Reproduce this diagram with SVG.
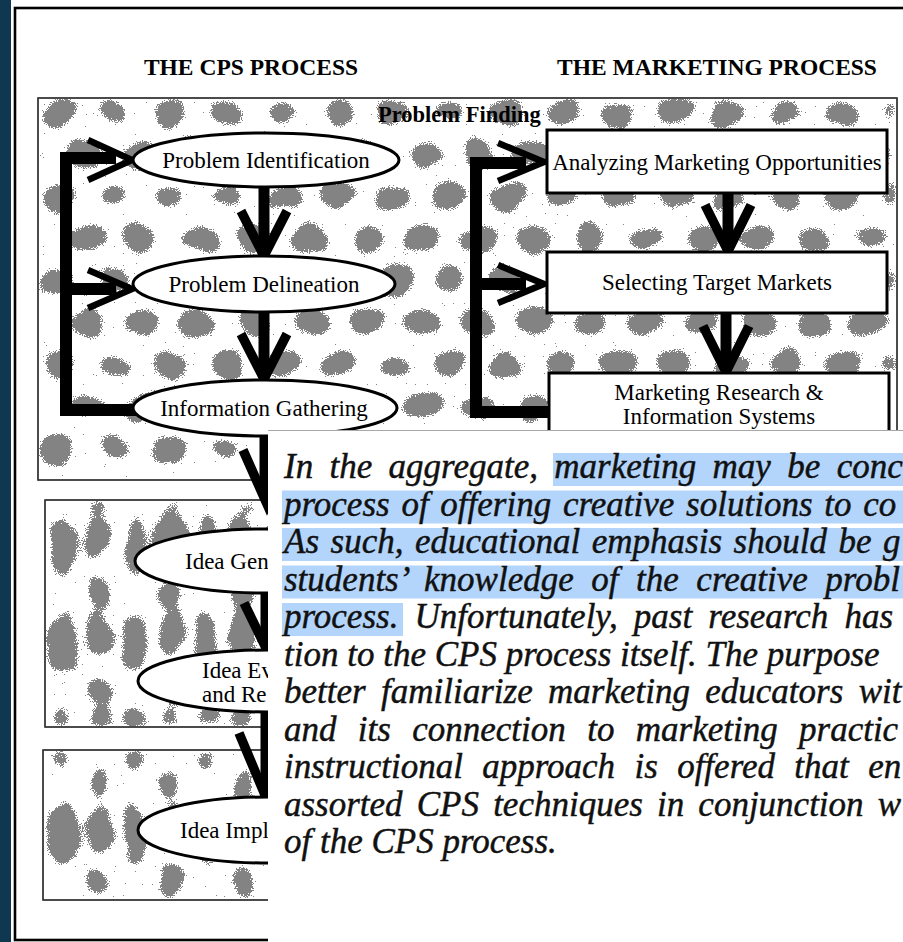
<svg xmlns="http://www.w3.org/2000/svg" width="903" height="942" viewBox="0 0 903 942">
  <style>
    .hd { font: bold 23.5px "Liberation Serif", "Times New Roman", serif; fill: #000; }
    .pf { font: bold 22.5px "Liberation Serif", "Times New Roman", serif; fill: #000; }
    .lb { font: 23px "Liberation Serif", "Times New Roman", serif; fill: #000; }
    .node { fill: #fff; stroke: #000; stroke-width: 3; }
    .panel { fill: #fff; stroke: #333; stroke-width: 1.3; }
    .bar { fill: none; stroke: #000; stroke-width: 12; stroke-linejoin: miter; }
    .stem { fill: none; stroke: #000; stroke-width: 11; }
    .head { fill: none; stroke: #000; stroke-width: 6.5; stroke-linejoin: miter; stroke-miterlimit: 10; }
    .vee { fill: none; stroke: #000; stroke-width: 9.5; stroke-linejoin: miter; stroke-miterlimit: 10; }
    .body { font: italic 35px "Liberation Serif", "Times New Roman", serif; fill: #111; stroke: #111; stroke-width: 0.45; }
    .sel { fill: #b3d5fb; }
  </style>
  <defs>
    <!-- cloudy halftone blobs, top panel -->
    <pattern id="blobsA" patternUnits="userSpaceOnUse" x="30" y="92" width="112" height="84">
      <ellipse cx="28" cy="21" rx="18" ry="13"/>
      <ellipse cx="84" cy="19" rx="16" ry="12"/>
      <ellipse cx="0" cy="63" rx="17" ry="14"/>
      <ellipse cx="56" cy="62" rx="19" ry="13"/>
      <ellipse cx="112" cy="63" rx="17" ry="14"/>
    </pattern>
    <!-- tall column blobs, lower panels -->
    <pattern id="blobsB" patternUnits="userSpaceOnUse" x="45" y="500" width="72" height="96">
      <ellipse cx="18" cy="46" rx="13" ry="31"/>
      <ellipse cx="54" cy="38" rx="13" ry="24"/>
      <ellipse cx="54" cy="93" rx="11" ry="14"/>
      <ellipse cx="54" cy="-3" rx="11" ry="14"/>
    </pattern>
    <!-- dither: wobbled soft blobs thresholded against noise, plus scattered specks -->
    <filter id="grain" x="0" y="0" width="1" height="1" color-interpolation-filters="sRGB">
      <feTurbulence type="fractalNoise" baseFrequency="0.035" numOctaves="2" seed="4" result="warp"/>
      <feDisplacementMap in="SourceAlpha" in2="warp" scale="22" xChannelSelector="R" yChannelSelector="G" result="moved"/>
      <feGaussianBlur in="moved" stdDeviation="5.5" result="soft"/>
      <feTurbulence type="fractalNoise" baseFrequency="0.85" numOctaves="1" seed="7" result="n"/>
      <feColorMatrix in="n" type="matrix" values="0 0 0 0 0  0 0 0 0 0  0 0 0 0 0  1 0 0 0 0" result="na"/>
      <feComposite in="soft" in2="na" operator="arithmetic" k1="0" k2="2.0" k3="-1.6" k4="0.3" result="mix"/>
      <feComponentTransfer in="mix" result="dots">
        <feFuncA type="discrete" tableValues="0 1"/>
      </feComponentTransfer>
      <feTurbulence type="fractalNoise" baseFrequency="0.9" numOctaves="1" seed="21" result="n2"/>
      <feColorMatrix in="n2" type="matrix" values="0 0 0 0 0  0 0 0 0 0  0 0 0 0 0  4 0 0 0 -2.55" result="sp"/>
      <feComponentTransfer in="sp" result="specks">
        <feFuncA type="discrete" tableValues="0 1"/>
      </feComponentTransfer>
      <feMerge result="all">
        <feMergeNode in="dots"/>
        <feMergeNode in="specks"/>
      </feMerge>
      <feFlood flood-color="#838383" result="grey"/>
      <feComposite in="grey" in2="all" operator="in"/>
    </filter>
  </defs>

  <!-- page background, dark margin strip and outer frame -->
  <rect x="0" y="0" width="903" height="942" fill="#fff"/>
  <rect x="0" y="0" width="11" height="942" fill="#0f3850"/>
  <rect x="15" y="8" width="900" height="932" fill="#fff" stroke="#000" stroke-width="2.6"/>

  <!-- column headings -->
  <text class="hd" x="251" y="75" text-anchor="middle">THE CPS PROCESS</text>
  <text class="hd" x="717" y="75" text-anchor="middle">THE MARKETING PROCESS</text>

  <!-- shaded stage panels -->
  <g id="panel-problem-finding">
    <rect class="panel" x="38" y="98" width="859" height="382"/>
    <rect x="39" y="99" width="857" height="380" fill="url(#blobsA)" filter="url(#grain)"/>
    <rect x="38" y="98" width="859" height="382" fill="none" stroke="#333" stroke-width="1.3"/>
    <text class="pf" x="378" y="122">Problem Finding</text>
  </g>
  <g id="panel-idea-finding">
    <rect class="panel" x="45" y="500" width="852" height="227"/>
    <rect x="46" y="501" width="850" height="225" fill="url(#blobsB)" filter="url(#grain)"/>
    <rect x="45" y="500" width="852" height="227" fill="none" stroke="#333" stroke-width="1.3"/>
  </g>
  <g id="panel-implementation">
    <rect class="panel" x="43" y="750" width="854" height="150"/>
    <rect x="44" y="751" width="852" height="148" fill="url(#blobsB)" filter="url(#grain)"/>
    <rect x="43" y="750" width="854" height="150" fill="none" stroke="#333" stroke-width="1.3"/>
  </g>

  <!-- connectors -->
  <g id="connectors">
    <!-- CPS feedback bracket -->
    <path class="bar" d="M116,158 H66 V410 H140"/>
    <path class="bar" d="M66,289 H116"/>
    <path class="head" d="M88,140 L132,160 L88,180"/>
    <path class="head" d="M88,270 L132,289 L88,308"/>
    <!-- marketing feedback bracket -->
    <path class="bar" d="M526,163 H476 V412 H552"/>
    <path class="bar" d="M476,284 H526"/>
    <path class="head" d="M498,143 L544,162 L498,181"/>
    <path class="head" d="M498,265 L544,284 L498,303"/>
    <!-- CPS downward flow -->
    <path class="stem" d="M264,187 V248"/>
    <path class="vee" d="M241,211 L264,256 L287,211"/>
    <path class="stem" d="M264,312 V372"/>
    <path class="vee" d="M241,334 L264,379 L287,334"/>
    <path class="stem" d="M265,436 V497"/>
    <path class="vee" d="M243,450 L267,504 L291,450"/>
    <path class="stem" d="M266,593 V640"/>
    <path class="vee" d="M244,603 L266,648 L288,603"/>
    <path class="stem" d="M266,713 V788"/>
    <path class="vee" d="M239,733 L265,795 L291,733"/>
    <!-- marketing downward flow -->
    <path class="stem" d="M728,193 V243"/>
    <path class="vee" d="M705,205 L728,251 L751,205"/>
    <path class="stem" d="M726,313 V364"/>
    <path class="vee" d="M703,326 L726,372 L749,326"/>
  </g>

  <!-- CPS stages -->
  <g id="problem-identification">
    <ellipse class="node" cx="266" cy="160" rx="133" ry="27"/>
    <text class="lb" x="266" y="168" text-anchor="middle">Problem Identification</text>
  </g>
  <g id="problem-delineation">
    <ellipse class="node" cx="264" cy="284" rx="131" ry="28"/>
    <text class="lb" x="264" y="292" text-anchor="middle">Problem Delineation</text>
  </g>
  <g id="information-gathering">
    <ellipse class="node" cx="265" cy="408" rx="132" ry="28"/>
    <text class="lb" x="264" y="416" text-anchor="middle">Information Gathering</text>
  </g>
  <g id="idea-generation">
    <ellipse class="node" cx="265" cy="561" rx="130" ry="32"/>
    <text class="lb" x="185" y="569">Idea Gen</text>
  </g>
  <g id="idea-evaluation">
    <ellipse class="node" cx="268" cy="681" rx="130" ry="31"/>
    <text class="lb" x="202" y="678">Idea Ev</text>
    <text class="lb" x="202" y="702">and Re</text>
  </g>
  <g id="idea-implementation">
    <ellipse class="node" cx="268" cy="830" rx="130" ry="33"/>
    <text class="lb" x="180" y="838">Idea Impl</text>
  </g>

  <!-- marketing stages -->
  <g id="analyzing-opportunities">
    <rect class="node" x="547" y="130" width="340" height="63" stroke-width="3.5"/>
    <text class="lb" x="717" y="170" text-anchor="middle">Analyzing Marketing Opportunities</text>
  </g>
  <g id="selecting-markets">
    <rect class="node" x="547" y="252" width="340" height="61" stroke-width="3.5"/>
    <text class="lb" x="717" y="290" text-anchor="middle">Selecting Target Markets</text>
  </g>
  <g id="research-systems">
    <rect class="node" x="549" y="373" width="340" height="100" stroke-width="3.5"/>
    <text class="lb" x="719" y="400" text-anchor="middle">Marketing Research &amp;</text>
    <text class="lb" x="719" y="424" text-anchor="middle">Information Systems</text>
  </g>

  <!-- quoted passage laid over the lower right -->
  <g id="excerpt">
    <rect x="268" y="430" width="635" height="512" fill="#fff"/>
    <line x1="268" y1="430.5" x2="903" y2="430.5" stroke="#a8a8a8" stroke-width="1"/>
    <rect class="sel" x="553" y="453" width="350" height="33"/>
    <rect class="sel" x="282" y="490.5" width="621" height="33"/>
    <rect class="sel" x="282" y="528" width="621" height="33"/>
    <rect class="sel" x="282" y="565.5" width="621" height="33"/>
    <rect class="sel" x="282" y="603" width="121" height="33"/>
    <text class="body" x="284" y="478" word-spacing="7.6">In the aggregate, marketing may be conc</text>
    <text class="body" x="284" y="515.5" word-spacing="3.0">process of offering creative solutions to co</text>
    <text class="body" x="284" y="553" word-spacing="2.8">As such, educational emphasis should be g</text>
    <text class="body" x="284" y="590.5" word-spacing="8.8">students’ knowledge of the creative probl</text>
    <text class="body" x="284" y="628" word-spacing="7.4">process. Unfortunately, past research has</text>
    <text class="body" x="284" y="665.5" word-spacing="0">tion to the CPS process itself. The purpose</text>
    <text class="body" x="284" y="703" word-spacing="6.6">better familiarize marketing educators wit</text>
    <text class="body" x="284" y="740.5" word-spacing="12.6">and its connection to marketing practic</text>
    <text class="body" x="284" y="778" word-spacing="10.6">instructional approach is offered that en</text>
    <text class="body" x="284" y="815.5" word-spacing="5.4">assorted CPS techniques in conjunction w</text>
    <text class="body" x="284" y="853">of the CPS process.</text>
  </g>
</svg>
